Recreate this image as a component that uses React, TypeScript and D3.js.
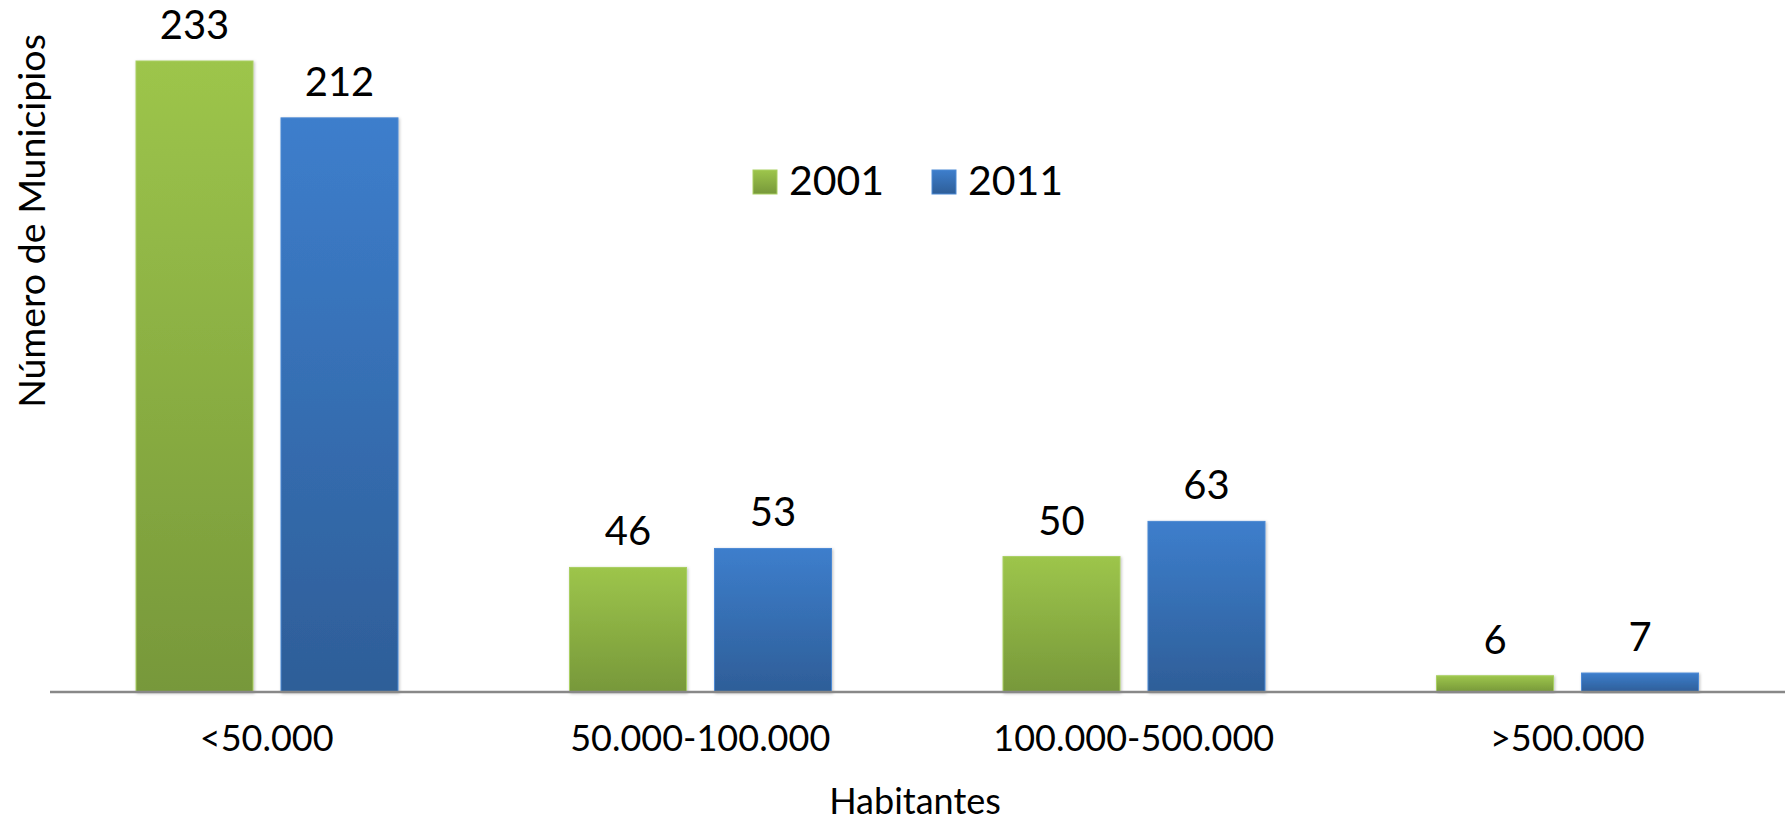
import React from "react";
import * as d3 from "d3";

const categories = ["<50.000", "50.000-100.000", "100.000-500.000", ">500.000"];
const seriesNames = ["2001", "2011"];
const values2001 = [233, 46, 50, 6];
const values2011 = [212, 53, 63, 7];

const W = 1789;
const H = 822;
const FONT = "Lato, 'Open Sans', sans-serif";

export default function App() {
  const x0 = d3.scaleBand<string>().domain(categories).range([50, 1784]).paddingInner(0).paddingOuter(0);
  const x1 = d3.scaleBand<string>().domain(seriesNames).range([86, 86 + 262]).paddingInner(0.193);
  const y = d3.scaleLinear().domain([0, 233]).range([692, 61]);
  const series = [
    { name: "2001", values: values2001, grad: "gGreen", edge: "#a9cf62" },
    { name: "2011", values: values2011, grad: "gBlue", edge: "#4d8ad4" },
  ];
  return (
    <svg width={W} height={H} style={{ position: "absolute", left: 0, top: 0, background: "#fff" }}>
      <defs>
        <linearGradient id="gGreen" x1="0" y1="0" x2="0" y2="1">
          <stop offset="0%" stopColor="#9dc54b" />
          <stop offset="100%" stopColor="#77983a" />
        </linearGradient>
        <linearGradient id="gBlue" x1="0" y1="0" x2="0" y2="1">
          <stop offset="0%" stopColor="#3d7ecc" />
          <stop offset="100%" stopColor="#2e5e98" />
        </linearGradient>
        <filter id="shadow" x="-10%" y="-10%" width="120%" height="120%">
          <feDropShadow dx="1" dy="1" stdDeviation="1.5" floodColor="#000" floodOpacity="0.25" />
        </filter>
      </defs>
      {categories.map((c, i) =>
        series.map((s) => {
          const bx = (x0(c) as number) + (x1(s.name) as number);
          const by = y(s.values[i]);
          const bw = x1.bandwidth();
          return (
            <g key={c + s.name}>
              <rect x={bx} y={by} width={bw} height={y(0) - by} fill={`url(#${s.grad})`} stroke={s.edge} strokeWidth={1} filter="url(#shadow)" />
              <text x={bx + bw / 2} y={by - 22} textAnchor="middle" fontFamily={FONT} fontSize={40} fill="#000">
                {s.values[i]}
              </text>
            </g>
          );
        })
      )}
      <line x1={50} x2={1785} y1={692} y2={692} stroke="#888" strokeWidth={2.5} />
      {categories.map((c) => (
        <text key={c} x={(x0(c) as number) + x0.bandwidth() / 2} y={751} textAnchor="middle" fontFamily={FONT} fontSize={36} fill="#000">
          {c}
        </text>
      ))}
      <text x={915} y={814} textAnchor="middle" fontFamily={FONT} fontSize={36} fill="#000">Habitantes</text>
      <text transform="translate(45,221) rotate(-90)" textAnchor="middle" fontFamily={FONT} fontSize={37.5} fill="#000">
        Número de Municipios
      </text>
      {series.map((s, i) => {
        const lx = 753 + i * 179;
        return (
          <g key={s.name}>
            <rect x={lx} y={170} width={24} height={24} fill={`url(#${s.grad})`} stroke={s.edge} strokeWidth={1} />
            <text x={lx + 36} y={195} fontFamily={FONT} fontSize={41} fill="#000">{s.name}</text>
          </g>
        );
      })}
    </svg>
  );
}
